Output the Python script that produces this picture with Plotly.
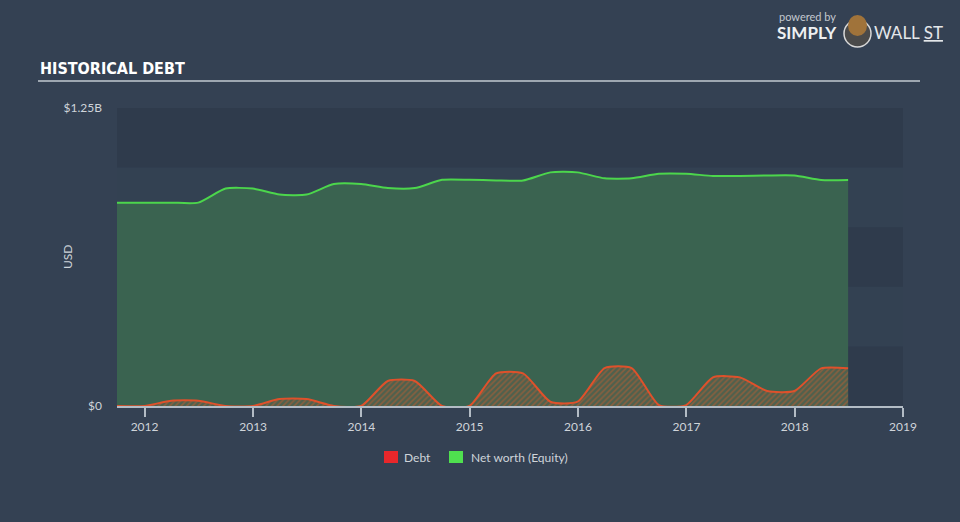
import plotly.graph_objects as go

# ---- data ----
dates = ["2011-09-30", "2011-12-31", "2012-03-31", "2012-06-30", "2012-09-30", "2012-12-31",
         "2013-03-31", "2013-06-30", "2013-09-30", "2013-12-31", "2014-03-31", "2014-06-30",
         "2014-09-30", "2014-12-31", "2015-03-31", "2015-06-30", "2015-09-30", "2015-12-31",
         "2016-03-31", "2016-06-30", "2016-09-30", "2016-12-31", "2017-03-31", "2017-06-30",
         "2017-09-30", "2017-12-31", "2018-03-31", "2018-06-30"]
net_worth_b = [0.853, 0.853, 0.853, 0.853, 0.912, 0.912, 0.887, 0.887, 0.931, 0.931,
               0.914, 0.914, 0.949, 0.949, 0.946, 0.946, 0.980, 0.980, 0.955, 0.955,
               0.974, 0.974, 0.965, 0.965, 0.967, 0.967, 0.948, 0.948]
debt_b = [0.0, 0.0, 0.022, 0.022, 0.0, 0.0, 0.029, 0.029, 0.0, 0.0,
          0.105, 0.105, 0.0, 0.0, 0.137, 0.137, 0.018, 0.018, 0.159, 0.159,
          0.004, 0.004, 0.120, 0.120, 0.063, 0.063, 0.158, 0.158]
year_ticks = ["2012-01-01", "2013-01-01", "2014-01-01", "2015-01-01",
              "2016-01-01", "2017-01-01", "2018-01-01", "2019-01-01"]
year_labels = ["2012", "2013", "2014", "2015", "2016", "2017", "2018", "2019"]
y_ticks = [0, 1.25e9]
y_labels = ["$0", "$1.25B"]
bands = [(0, 0.25e9), (0.5e9, 0.75e9), (1.0e9, 1.25e9)]
legend_names = ["Debt", "Net worth (Equity)"]
legend_colors = ["#e8272b", "#4fe04f"]

net_worth = [v * 1e9 for v in net_worth_b]
debt = [v * 1e9 for v in debt_b]

PAGE_BG = "#344153"
TXT = "#cfd4da"
FONT = "Lato, Open Sans, sans-serif"

# pixel -> paper helpers (plot area: x 117..903, y 108..406)
def px(x):
    return (x - 117) / 786

def py(y):
    return (406 - y) / 298

fig = go.Figure()

fig.add_trace(go.Scatter(
    x=dates, y=net_worth, mode="lines", name="Net worth (Equity)",
    line=dict(color="#4cd64c", width=2, shape="spline", smoothing=0.6),
    fill="tozeroy", fillcolor="#3a6350", showlegend=False, hoverinfo="skip"))

fig.add_trace(go.Scatter(
    x=dates, y=debt, mode="lines", name="Debt",
    line=dict(color="#df512b", width=2, shape="spline", smoothing=0.6),
    fill="tozeroy",
    fillpattern=dict(shape="/", fgcolor="rgba(205,92,45,0.9)", bgcolor="rgba(95,95,75,0.55)",
                     size=4, solidity=0.4),
    showlegend=False, hoverinfo="skip"))

shapes = []
for lo, hi in bands:
    shapes.append(dict(type="rect", xref="paper", yref="y", x0=0, x1=1, y0=lo, y1=hi,
                       fillcolor="#2f3b4c", line=dict(width=0), layer="below"))
# title underline
shapes.append(dict(type="line", xref="paper", yref="paper", x0=px(38), x1=px(920),
                   y0=py(81), y1=py(81), line=dict(color="#9ea7b1", width=2)))
# logo
shapes.append(dict(type="circle", xref="paper", yref="paper",
                   x0=px(844), x1=px(871), y0=py(47), y1=py(20),
                   fillcolor="#4a4a4a", line=dict(color="#d9d9d9", width=1.5)))
shapes.append(dict(type="circle", xref="paper", yref="paper",
                   x0=px(848), x1=px(867), y0=py(36), y1=py(15),
                   fillcolor="#a0733a", line=dict(width=0)))

annotations = [
    dict(text="HISTORICAL DEBT", xref="paper", yref="paper", x=px(38), y=py(68),
         xanchor="left", yanchor="middle", showarrow=False,
         font=dict(family="Liberation Sans Narrow, DejaVu Sans Condensed, Arial Narrow, sans-serif",
                   size=16, color="#ffffff", weight="bold")),
    dict(text="USD", xref="paper", yref="paper", x=px(67), y=0.5, textangle=-90,
         xanchor="center", yanchor="middle",
         showarrow=False, font=dict(family=FONT, size=12, color=TXT)),
    dict(text="powered by", xref="paper", yref="paper", x=px(777), y=py(16),
         xanchor="left", yanchor="middle", showarrow=False,
         font=dict(family=FONT, size=11, color="#c3c8cf")),
    dict(text="<b>SIMPLY</b>", xref="paper", yref="paper", x=px(775), y=py(33),
         xanchor="left", yanchor="middle", showarrow=False,
         font=dict(family=FONT, size=17, color="#eef0f2")),
    dict(text="WALL <u>ST</u>", xref="paper", yref="paper", x=px(872), y=py(33),
         xanchor="left", yanchor="middle", showarrow=False,
         font=dict(family=FONT, size=17, color="#e4e7ea")),
]

# manual legend
leg_sq_x = [384, 449]
leg_txt_x = [402, 469]
for name, col, sx, tx in zip(legend_names, legend_colors, leg_sq_x, leg_txt_x):
    shapes.append(dict(type="rect", xref="paper", yref="paper",
                       x0=px(sx), x1=px(sx + 14), y0=py(463), y1=py(451),
                       fillcolor=col, line=dict(width=0)))
    annotations.append(dict(text=name, xref="paper", yref="paper", x=px(tx), y=py(457),
                            xanchor="left", yanchor="middle", showarrow=False,
                            font=dict(family=FONT, size=12, color=TXT)))

fig.update_layout(
    width=960, height=522,
    paper_bgcolor=PAGE_BG, plot_bgcolor="#334152",
    margin=dict(l=117, r=57, t=108, b=116),
    font=dict(family=FONT, color=TXT, size=12),
    shapes=shapes, annotations=annotations,
    showlegend=False,
    xaxis=dict(type="date", range=["2011-09-30", "2019-01-01"], tickvals=year_ticks,
               ticktext=year_labels, showgrid=False, zeroline=False,
               showline=True, linecolor="#b3bcc5", linewidth=1.5,
               ticks="outside", ticklen=9, tickcolor="#b3bcc5", tickwidth=1.5,
               tickfont=dict(family=FONT, size=12, color=TXT)),
    yaxis=dict(range=[0, 1.25e9], tickvals=y_ticks, ticktext=y_labels, showgrid=False,
               zeroline=False, showline=False, ticks="", ticklabelstandoff=14,
               tickfont=dict(family=FONT, size=12, color=TXT)),
)

fig.write_html("out.html")
